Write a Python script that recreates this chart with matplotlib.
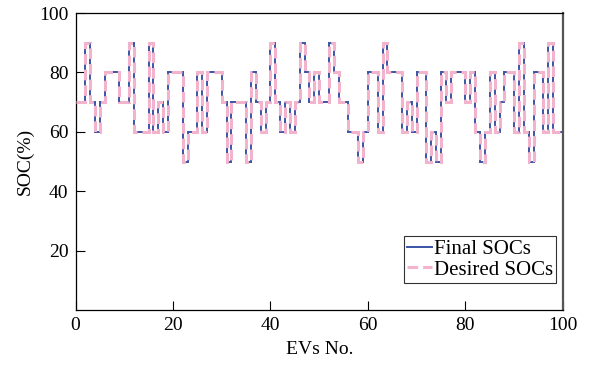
import numpy as np
import matplotlib
matplotlib.use("Agg")
import matplotlib.pyplot as plt

plt.rcParams['font.family'] = ['Liberation Serif', 'DejaVu Serif']

# SOC of each EV (EV k occupies the step [k-1, k])
ev_edges = np.arange(0, 101)
final_soc = [70, 70, 90, 70, 60, 70, 80, 80, 80, 70,
             70, 90, 60, 60, 60, 90, 60, 70, 60, 80,
             80, 80, 50, 60, 60, 80, 60, 80, 80, 80,
             70, 50, 70, 70, 70, 50, 80, 70, 60, 70,
             90, 70, 60, 70, 60, 70, 90, 80, 70, 80,
             70, 70, 90, 80, 70, 70, 60, 60, 50, 60,
             80, 80, 60, 90, 80, 80, 80, 60, 70, 60,
             80, 80, 50, 60, 50, 80, 70, 80, 80, 80,
             70, 80, 60, 50, 60, 80, 60, 70, 80, 80,
             60, 90, 60, 50, 80, 80, 60, 90, 60, 60]
desired_soc = list(final_soc)

xticks = [0, 20, 40, 60, 80, 100]
yticks = [20, 40, 60, 80, 100]

fig = plt.figure(figsize=(5.9, 3.65), dpi=100)
ax = fig.add_axes([0.128, 0.151, 0.826, 0.813])

ax.stairs(final_soc, ev_edges, baseline=None, color='#3a54a6', lw=1.4,
          label='Final SOCs', zorder=2)
ax.stairs(desired_soc, ev_edges, baseline=None, color='#f2b3cc', lw=2.2,
          ls=(0, (3.5, 1.6)), label='Desired SOCs', zorder=3)

ax.set_xlim(0, 100)
ax.set_ylim(0, 100)
ax.set_xticks(xticks)
ax.set_yticks(yticks)
ax.tick_params(direction='in', length=6.5, width=0.8, labelsize=14,
               top=False, right=False, pad=5)
for s in ax.spines.values():
    s.set_linewidth(0.9)
ax.spines['right'].set_color('#555555')
ax.spines['right'].set_linewidth(1.6)

ax.set_xlabel('EVs No.', fontsize=14, labelpad=5)
ax.set_ylabel('SOC(%)', fontsize=14, labelpad=4)

leg = ax.legend(loc='lower right', bbox_to_anchor=(0.986, 0.091), fontsize=15,
                frameon=True, fancybox=False, edgecolor='black',
                handlelength=1.2, handletextpad=0.1, borderpad=0.15,
                labelspacing=0.05, borderaxespad=0)
leg.get_frame().set_linewidth(0.8)

fig.savefig('out.png', dpi=100)
